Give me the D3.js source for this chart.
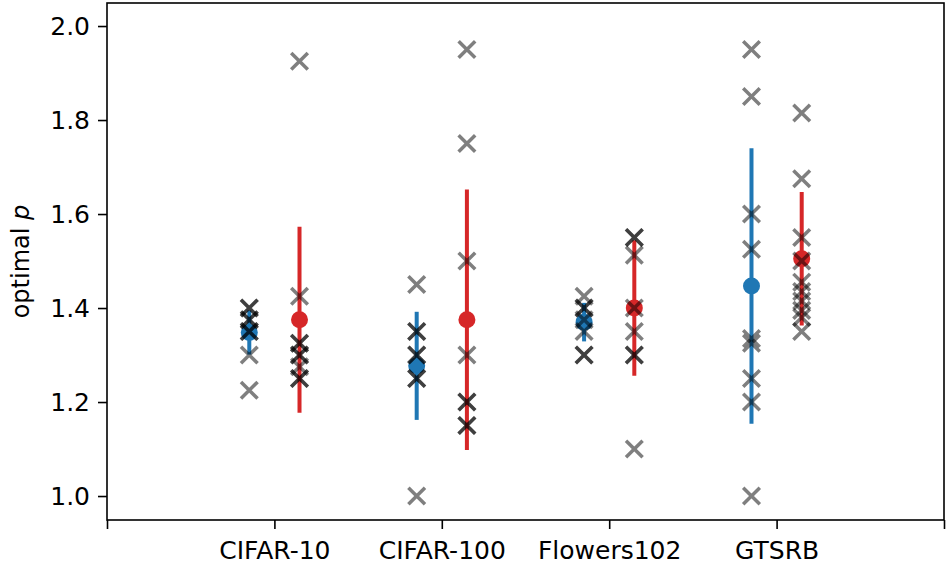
<!DOCTYPE html>
<html>
<head>
<meta charset="utf-8">
<script src="https://cdn.jsdelivr.net/npm/d3@7"></script>
<style>
  body { margin: 0; background: #fff; }
  text { font-family: "DejaVu Sans", sans-serif; }
</style>
</head>
<body>
<div id="chart"></div>
<script>
// dataset names on the x axis
const categories = ["CIFAR-10", "CIFAR-100", "Flowers102", "GTSRB"];

// blue series: mean and error
const blueMean = [1.348, 1.277, 1.370, 1.447];
const blueErr = [0.047, 0.115, 0.041, 0.293];

// red series: mean and error
const redMean = [1.375, 1.375, 1.400, 1.505];
const redErr = [0.198, 0.277, 0.144, 0.142];

// single runs (crosses)
const blueRuns = [
  [1.225, 1.3, 1.35, 1.35, 1.375, 1.375, 1.4, 1.4],
  [1.0, 1.25, 1.25, 1.3, 1.3, 1.35, 1.35, 1.45],
  [1.3, 1.3, 1.35, 1.375, 1.4, 1.4, 1.425],
  [1.0, 1.2, 1.25, 1.325, 1.335, 1.525, 1.6, 1.85, 1.95]
];
const redRuns = [
  [1.25, 1.25, 1.275, 1.3, 1.3, 1.325, 1.325, 1.425, 1.925],
  [1.15, 1.15, 1.2, 1.2, 1.3, 1.5, 1.75, 1.95],
  [1.1, 1.3, 1.3, 1.35, 1.4, 1.5125, 1.55, 1.55],
  [1.35, 1.38, 1.395, 1.415, 1.435, 1.455, 1.5, 1.55, 1.675, 1.815]
];

const yTicks = [1.0, 1.2, 1.4, 1.6, 1.8, 2.0];

const W = 947, H = 568;
const mLeft = 107, mRight = 944, mTop = 3, mBottom = 520;
const offset = 0.15;

const svg = d3.select("#chart").append("svg").attr("width", W).attr("height", H);

const x = d3.scaleLinear().domain([0, 5]).range([mLeft, mRight]);
const y = d3.scaleLinear().domain([0.949, 2.049]).range([mBottom, mTop]);

// error bars + means
function drawSeries(means, errs, color, dx) {
  const g = svg.append("g");
  means.forEach((m, i) => {
    g.append("line")
      .attr("x1", x(i + 1 + dx)).attr("x2", x(i + 1 + dx))
      .attr("y1", y(m - errs[i])).attr("y2", y(m + errs[i]))
      .style("stroke", color).style("stroke-width", 4);
    g.append("circle")
      .attr("cx", x(i + 1 + dx)).attr("cy", y(m))
      .attr("r", 8.5).style("fill", color);
  });
}
drawSeries(blueMean, blueErr, "#1f77b4", -offset);
drawSeries(redMean, redErr, "#d62728", offset);

// crosses on top
const h = 8.3;
function drawRuns(runs, dx) {
  runs.forEach((vals, i) => {
    vals.forEach(v => {
      const cx = x(i + 1 + dx), cy = y(v);
      svg.append("path")
        .attr("d", `M${cx - h},${cy - h}L${cx + h},${cy + h}M${cx - h},${cy + h}L${cx + h},${cy - h}`)
        .style("stroke", "#000")
        .style("stroke-opacity", 0.5)
        .style("stroke-width", 3.5)
        .style("fill", "none");
    });
  });
}
drawRuns(blueRuns, -offset);
drawRuns(redRuns, offset);

// axes
const xAxis = d3.axisBottom(x)
  .tickValues([0, 1, 2, 3, 4, 5])
  .tickFormat(d => (d >= 1 && d <= 4) ? categories[d - 1] : "")
  .tickSize(9).tickPadding(8);
const yAxis = d3.axisLeft(y)
  .tickValues(yTicks)
  .tickFormat(d3.format(".1f"))
  .tickSize(9).tickPadding(8);

const gx = svg.append("g").attr("transform", `translate(0,${mBottom})`).call(xAxis);
const gy = svg.append("g").attr("transform", `translate(${mLeft},0)`).call(yAxis);
[gx, gy].forEach(g => {
  g.select(".domain").remove();
  g.selectAll(".tick line").style("stroke", "#000").style("stroke-width", 1.6);
  g.selectAll(".tick text").style("font-size", "25px").style("fill", "#000");
});
gx.selectAll(".tick text").attr("dy", "0.88em");

// frame
svg.append("rect")
  .attr("x", mLeft).attr("y", mTop)
  .attr("width", mRight - mLeft).attr("height", mBottom - mTop)
  .style("fill", "none").style("stroke", "#000").style("stroke-width", 1.6);

// y label
const yl = svg.append("text")
  .attr("transform", `translate(29,${(mTop + mBottom) / 2}) rotate(-90)`)
  .attr("text-anchor", "middle")
  .style("font-size", "24px");
yl.append("tspan").text("optimal ");
yl.append("tspan").style("font-style", "italic").text("p");
</script>
</body>
</html>
